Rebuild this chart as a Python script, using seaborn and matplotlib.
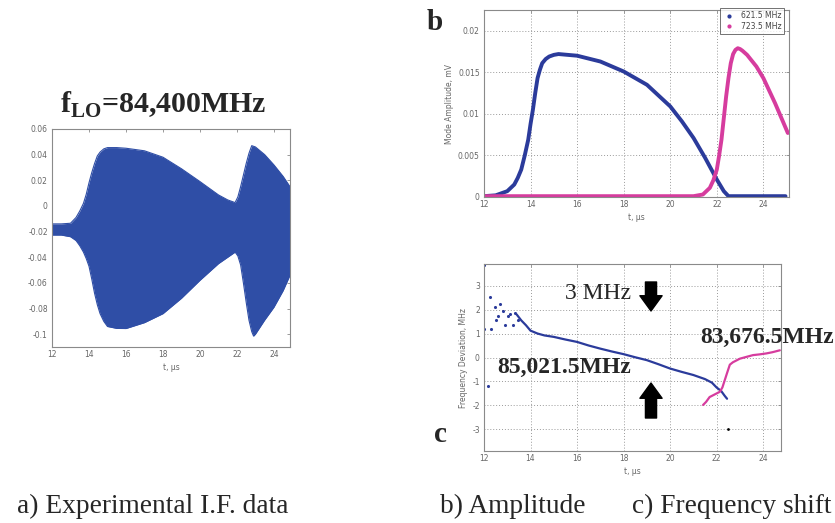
import matplotlib
matplotlib.use("Agg")
import matplotlib.pyplot as plt
from matplotlib.lines import Line2D
import seaborn as sns
import pandas as pd

# ---------------- data ----------------
# (a) experimental IF data: envelope of the signal
env_t = [12.0, 12.5, 13.0, 13.3, 13.5, 13.7, 13.85, 14.0, 14.15, 14.3, 14.45, 14.6, 14.8,
         15.0, 15.5, 16.0, 17.0, 18.0, 19.0, 20.0, 21.0, 21.5, 21.9, 22.05, 22.2, 22.35,
         22.5, 22.65, 22.8, 22.9, 23.0, 23.5, 24.0, 24.5, 24.87]
env_upper = [-0.014, -0.014, -0.0135, -0.009, -0.004, 0.002, 0.009, 0.018, 0.026, 0.033,
             0.039, 0.042, 0.0445, 0.0455, 0.0455, 0.045, 0.043, 0.038, 0.029, 0.019,
             0.0086, 0.0047, 0.0026, 0.007, 0.015, 0.024, 0.033, 0.041, 0.047, 0.0465,
             0.046, 0.040, 0.032, 0.023, 0.015]
env_lower = [-0.0227, -0.0227, -0.024, -0.027, -0.031, -0.036, -0.041, -0.047, -0.057,
             -0.068, -0.077, -0.084, -0.090, -0.094, -0.0955, -0.0956, -0.091, -0.084,
             -0.072, -0.058, -0.045, -0.040, -0.036, -0.039, -0.046, -0.060, -0.075,
             -0.089, -0.098, -0.1015, -0.100, -0.089, -0.079, -0.066, -0.054]

# (b) mode amplitude
amp1_t = [12.0, 12.5, 13.0, 13.3, 13.45, 13.6, 13.75, 13.9, 14.0, 14.1, 14.2, 14.3, 14.4,
          14.5, 14.65, 14.8, 15.0, 15.2, 16.0, 17.0, 18.0, 19.0, 20.0, 20.5, 21.0, 21.5,
          22.0, 22.3, 22.5, 23.0, 24.0, 24.95]
amp1_v = [0.0001, 0.0002, 0.0007, 0.0015, 0.0023, 0.0033, 0.0050, 0.0069, 0.0088, 0.0105,
          0.0125, 0.0143, 0.0153, 0.0161, 0.0166, 0.0169, 0.0171, 0.0172, 0.0170, 0.0163,
          0.0151, 0.0135, 0.0109, 0.0091, 0.0071, 0.0047, 0.0021, 0.0007, 0.0001, 0.0001,
          0.0001, 0.0001]
amp2_t = [12.0, 14.0, 16.0, 18.0, 20.0, 21.0, 21.4, 21.7, 21.85, 22.0, 22.1, 22.2, 22.3,
          22.4, 22.5, 22.6, 22.7, 22.8, 22.9, 23.0, 23.1, 23.3, 23.7, 24.0, 24.5, 25.05]
amp2_v = [0.0001, 0.0001, 0.0001, 0.0001, 0.0001, 0.0001, 0.0003, 0.0011, 0.0020, 0.0033,
          0.0050, 0.0069, 0.0095, 0.0121, 0.0143, 0.0161, 0.0172, 0.0177, 0.0179, 0.0178,
          0.0176, 0.0171, 0.0157, 0.0143, 0.0113, 0.0077]
amp_labels = ["621.5 MHz", "723.5 MHz"]

# (c) frequency deviation
fs_t = [12.0, 12.0, 12.18, 12.25, 12.32, 12.46, 12.53, 12.6, 12.68, 12.82, 12.89, 13.03,
        13.1, 13.25, 13.32, 13.46]
fs_v = [3.85, 1.2, -1.18, 2.52, 1.2, 2.1, 1.55, 1.75, 2.24, 1.96, 1.34, 1.75, 1.8, 1.34,
        1.85, 1.55]
f1_t = [13.4, 13.6, 13.8, 14.0, 14.3, 14.6, 15.0, 15.5, 16.0, 16.5, 17.0, 17.5, 18.0,
        18.5, 19.0, 19.5, 20.0, 20.5, 21.0, 21.5, 21.8, 22.0, 22.2, 22.35, 22.45]
f1_v = [1.8, 1.55, 1.35, 1.12, 1.0, 0.92, 0.86, 0.75, 0.65, 0.5, 0.37, 0.25, 0.14, 0.01,
        -0.11, -0.28, -0.46, -0.6, -0.73, -0.9, -1.05, -1.25, -1.4, -1.6, -1.72]
f2_t = [21.42, 21.55, 21.7, 21.9, 22.14, 22.25, 22.35, 22.45, 22.57, 22.7, 23.0, 23.3,
        23.57, 23.85, 24.14, 24.4, 24.6, 24.72]
f2_v = [-1.98, -1.85, -1.65, -1.55, -1.43, -1.25, -0.95, -0.65, -0.3, -0.2, -0.05, 0.03,
        0.1, 0.13, 0.17, 0.22, 0.27, 0.3]
f_odd_t = [22.5]
f_odd_v = [-3.0]

x_ticks = [12, 14, 16, 18, 20, 22, 24]

# ---------------- style ----------------
sns.set_theme(style="white")
plt.rcParams["font.family"] = ["DejaVu Sans"]
plt.rcParams["mathtext.fontset"] = "custom"
plt.rcParams["mathtext.rm"] = "Liberation Serif"
plt.rcParams["mathtext.bf"] = "Liberation Serif:bold"

BLUE_A = "#2f4ea6"
BLUE = "#2b3b9b"
MAG = "#d63c9e"
TICK_C = "#666666"
SPINE_C = "#8a8a8a"

W, H = 835, 523
fig = plt.figure(figsize=(W / 100, H / 100), dpi=100)
fig.patch.set_facecolor("white")


def fx(px):
    return px / W


def fy(py):
    return 1 - py / H


def axes_px(l, t, r, b):
    return fig.add_axes([fx(l), fy(b), (r - l) / W, (b - t) / H])


def matlab_style(ax, grid=False):
    for s in ax.spines.values():
        s.set_color(SPINE_C)
        s.set_linewidth(0.8)
    ax.tick_params(direction="in", top=True, right=True, length=2.5, width=0.6,
                   colors=SPINE_C, labelcolor=TICK_C, labelsize=5.5, pad=2)
    ax.tick_params(axis="y", pad=3)
    ax.set_facecolor("white")
    if grid:
        ax.grid(True, linestyle=(0, (1, 2)), color="#9a9a9a", linewidth=0.7)
        ax.set_axisbelow(True)
    else:
        ax.grid(False)


def fmt(v):
    return "%g" % v


# ---------------- panel a ----------------
axA = axes_px(52, 129, 290, 347)
matlab_style(axA)
dfA = pd.DataFrame({"t": env_t, "up": env_upper, "lo": env_lower})
axA.fill_between(dfA["t"], dfA["lo"], dfA["up"], color=BLUE_A, linewidth=0)
sns.lineplot(data=dfA, x="t", y="up", ax=axA, color=BLUE_A, linewidth=0.8)
sns.lineplot(data=dfA, x="t", y="lo", ax=axA, color=BLUE_A, linewidth=0.8)
axA.set_xlim(12, 24.87)
axA.set_ylim(-0.11, 0.06)
a_yt = [-0.1, -0.08, -0.06, -0.04, -0.02, 0, 0.02, 0.04, 0.06]
axA.set_yticks(a_yt)
axA.set_yticklabels([fmt(v) for v in a_yt])
axA.set_xticks(x_ticks)
axA.set_xticklabels([str(v) for v in x_ticks])
axA.set_xlabel("t, μs", fontsize=5.5, color=TICK_C, labelpad=3)
axA.set_ylabel("")

# ---------------- panel b ----------------
axB = axes_px(484, 10, 789, 197)
matlab_style(axB, grid=True)
df1 = pd.DataFrame({"t": amp1_t, "v": amp1_v})
df2 = pd.DataFrame({"t": amp2_t, "v": amp2_v})
sns.lineplot(data=df1, x="t", y="v", ax=axB, color=BLUE, linewidth=2.8)
sns.lineplot(data=df2, x="t", y="v", ax=axB, color=MAG, linewidth=2.8)
axB.set_xlim(12, 25.1)
axB.set_ylim(0, 0.0225)
b_yt = [0, 0.005, 0.01, 0.015, 0.02]
axB.set_yticks(b_yt)
axB.set_yticklabels([fmt(v) for v in b_yt])
axB.set_xticks(x_ticks)
axB.set_xticklabels([str(v) for v in x_ticks])
axB.set_xlabel("t, μs", fontsize=5.5, color=TICK_C, labelpad=3)
axB.set_ylabel("Mode Amplitude, mV", fontsize=5.5, color=TICK_C, labelpad=3)
handles = [Line2D([], [], marker=".", linestyle="none", color=BLUE, markersize=4),
           Line2D([], [], marker=".", linestyle="none", color=MAG, markersize=4)]
leg = axB.legend(handles, amp_labels, loc="upper right", bbox_to_anchor=(0.985, 1.01),
                 fontsize=5.5, frameon=True, fancybox=False, borderaxespad=0,
                 handlelength=1.5, borderpad=0.4, labelspacing=0.2)
leg.get_frame().set_edgecolor("#333333")
leg.get_frame().set_linewidth(0.6)
for txt in leg.get_texts():
    txt.set_color("#444444")

# ---------------- panel c ----------------
axC = axes_px(484, 264, 781, 451)
matlab_style(axC, grid=True)
dfs = pd.DataFrame({"t": fs_t, "v": fs_v})
dfl1 = pd.DataFrame({"t": f1_t, "v": f1_v})
dfl2 = pd.DataFrame({"t": f2_t, "v": f2_v})
dfo = pd.DataFrame({"t": f_odd_t, "v": f_odd_v})
sns.scatterplot(data=dfs, x="t", y="v", ax=axC, color=BLUE, s=5, linewidth=0)
sns.lineplot(data=dfl1, x="t", y="v", ax=axC, color=BLUE, linewidth=1.6)
sns.lineplot(data=dfl2, x="t", y="v", ax=axC, color=MAG, linewidth=1.6)
sns.scatterplot(data=dfo, x="t", y="v", ax=axC, color="black", s=4, linewidth=0)
axC.set_xlim(12, 24.77)
axC.set_ylim(-3.9, 3.9)
c_yt = [-3, -2, -1, 0, 1, 2, 3]
axC.set_yticks(c_yt)
axC.set_yticklabels([str(v) for v in c_yt])
axC.set_xticks(x_ticks)
axC.set_xticklabels([str(v) for v in x_ticks])
axC.set_xlabel("t, μs", fontsize=5.5, color=TICK_C, labelpad=3)
axC.set_ylabel("Frequency Deviation, MHz", fontsize=5.5, color=TICK_C, labelpad=3)

# ---------------- texts ----------------
SERIF = "Liberation Serif"
fig.text(fx(60), fy(113), r"$\mathbf{f}_{\mathbf{LO}}$=84,400MHz", family=SERIF,
         fontweight="bold", fontsize=21.5, ha="left", va="baseline")
fig.text(fx(427), fy(30), "b", family=SERIF, fontweight="bold", fontsize=21,
         ha="left", va="baseline")
fig.text(fx(434), fy(442), "c", family=SERIF, fontweight="bold", fontsize=21,
         ha="left", va="baseline")
fig.text(fx(565), fy(299), "3 MHz", family=SERIF, fontsize=17, ha="left", va="baseline")
fig.text(fx(497), fy(373), "85,021.5MHz", family=SERIF, fontweight="bold", fontsize=17,
         ha="left", va="baseline")
fig.text(fx(700), fy(343), "83,676.5MHz", family=SERIF, fontweight="bold", fontsize=17,
         ha="left", va="baseline")

arrow_kw = dict(facecolor="black", edgecolor="black", width=8, headwidth=16,
                headlength=11, shrink=0)
axC.annotate("", xy=(fx(651), fy(311)), xycoords="figure fraction",
             xytext=(fx(651), fy(282)), textcoords="figure fraction",
             arrowprops=arrow_kw)
axC.annotate("", xy=(fx(651), fy(383)), xycoords="figure fraction",
             xytext=(fx(651), fy(418)), textcoords="figure fraction",
             arrowprops=arrow_kw)

fig.text(fx(17), fy(513), "a) Experimental I.F. data", family=SERIF, fontsize=19.7,
         ha="left", va="baseline")
fig.text(fx(440), fy(513), "b) Amplitude", family=SERIF, fontsize=19.7,
         ha="left", va="baseline")
fig.text(fx(632), fy(513), "c) Frequency shift", family=SERIF, fontsize=19.7,
         ha="left", va="baseline")

fig.savefig("out.png", dpi=100, facecolor="white")
